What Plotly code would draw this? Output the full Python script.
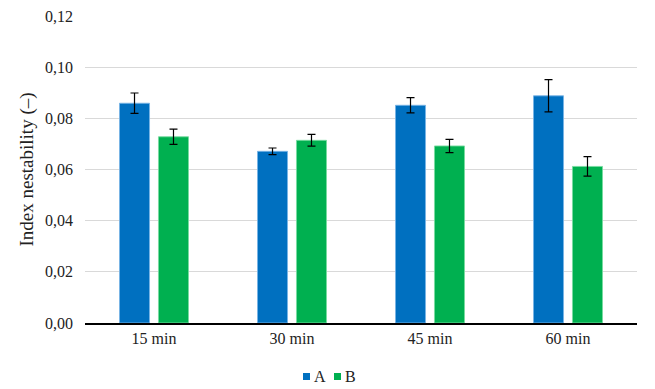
import plotly.graph_objects as go

categories = ["15 min", "30 min", "45 min", "60 min"]
series_names = ["A", "B"]
series_a = [0.0859, 0.0671, 0.0851, 0.0888]
err_a = [0.0040, 0.0013, 0.0030, 0.0063]
series_b = [0.0728, 0.0714, 0.0692, 0.0612]
err_b = [0.0030, 0.0023, 0.0026, 0.0038]
y_ticks = [0, 0.02, 0.04, 0.06, 0.08, 0.10, 0.12]
colors = ["#0070C0", "#00B050"]
edge_colors = ["rgba(120,180,230,0.9)", "rgba(120,220,160,0.9)"]

font_family = "Liberation Serif, Times New Roman, serif"

W, H = 655, 389
ML, MR, MT, MB = 85, 18, 16, 66
PW, PH = W - ML - MR, H - MT - MB


def px_x(px):
    return (px - ML) / PW


def px_y(py):
    return (H - MB - py) / PH


fig = go.Figure()
for name, vals, errs, col, edge in zip(series_names, [series_a, series_b], [err_a, err_b], colors, edge_colors):
    fig.add_trace(go.Bar(
        name=name, x=categories, y=vals, showlegend=False,
        marker=dict(color=col, line=dict(color=edge, width=1)),
        error_y=dict(type="data", array=errs, visible=True, color="black", thickness=1.2, width=4),
    ))

# compact Excel-like legend: small squares + labels
legend_sq_left = [303, 334]
legend_txt_left = [312, 343]
for name, col, sx, tx in zip(series_names, colors, legend_sq_left, legend_txt_left):
    fig.add_shape(type="rect", xref="paper", yref="paper",
                  x0=px_x(sx), x1=px_x(sx + 7), y0=px_y(380), y1=px_y(373),
                  fillcolor=col, line=dict(width=0))
    fig.add_annotation(
        xref="paper", yref="paper", x=px_x(tx), y=px_y(376.5), xanchor="left", yanchor="middle",
        showarrow=False, text=name,
        font=dict(family=font_family, size=16, color="#222222"),
    )

fig.update_layout(
    width=W, height=H,
    margin=dict(l=ML, r=MR, t=MT, b=MB, autoexpand=False),
    paper_bgcolor="white", plot_bgcolor="white",
    barmode="group", bargap=0.435, bargroupgap=0.23,
    separators=", ",
    font=dict(family=font_family, size=16, color="#222222"),
    showlegend=False,
    xaxis=dict(showgrid=False, showline=True, linecolor="black", linewidth=1.5,
               ticks="", tickfont=dict(size=16), automargin=False),
    yaxis=dict(range=[0, 0.12], tickvals=y_ticks, tickformat=".2f",
               showgrid=True, gridcolor="#d9d9d9", gridwidth=1,
               zeroline=False, showline=False, ticks="", ticklen=0,
               tickfont=dict(size=16), ticklabelstandoff=11, automargin=False,
               title=dict(text="Index nestability (–)", font=dict(size=19), standoff=6)),
)

fig.write_html("out.html", config={"displayModeBar": False},
               post_script="document.body.style.margin='0';document.body.style.overflow='hidden';")
